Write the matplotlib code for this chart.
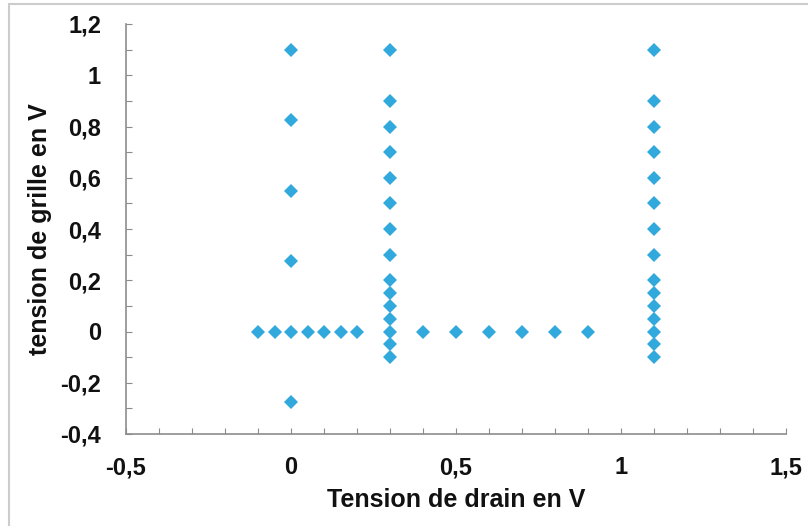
import numpy as np
import matplotlib.pyplot as plt
from matplotlib.patches import Rectangle
from matplotlib.ticker import MultipleLocator, FuncFormatter

plt.rcParams['font.family'] = ['Liberation Sans', 'DejaVu Sans']
plt.rcParams['font.weight'] = 'bold'

# drain voltage (V) and grid voltage (V) of each measured point
vd_col0 = [0, 0, 0, 0, 0, 0]
vg_col0 = [1.1, 0.825, 0.55, 0.275, 0, -0.275]

vd_row_left = [-0.1, -0.05, 0.05, 0.1, 0.15, 0.2]
vg_row_left = [0, 0, 0, 0, 0, 0]

vd_col1 = [0.3] * 15
vg_col1 = [1.1, 0.9, 0.8, 0.7, 0.6, 0.5, 0.4, 0.3, 0.2, 0.15, 0.1, 0.05, 0, -0.05, -0.1]

vd_row_mid = [0.4, 0.5, 0.6, 0.7, 0.8, 0.9]
vg_row_mid = [0, 0, 0, 0, 0, 0]

vd_col2 = [1.1] * 15
vg_col2 = [1.1, 0.9, 0.8, 0.7, 0.6, 0.5, 0.4, 0.3, 0.2, 0.15, 0.1, 0.05, 0, -0.05, -0.1]

vd = vd_col0 + vd_row_left + vd_col1 + vd_row_mid + vd_col2
vg = vg_col0 + vg_row_left + vg_col1 + vg_row_mid + vg_col2

fig = plt.figure(figsize=(8.08, 5.26), dpi=100)
ax = fig.add_axes([126 / 808, 1 - 434 / 526, (786 - 126) / 808, (434 - 24) / 526])

ax.plot(vd, vg, linestyle='none', marker='D', markersize=6.8, markeredgewidth=0,
        color='#31A9DD', clip_on=False)

ax.set_xlim(-0.5, 1.5)
ax.set_ylim(-0.4, 1.2)
ax.xaxis.set_major_locator(MultipleLocator(0.5))
ax.xaxis.set_minor_locator(MultipleLocator(0.1))
ax.yaxis.set_major_locator(MultipleLocator(0.2))
ax.yaxis.set_minor_locator(MultipleLocator(0.1))

fmt = FuncFormatter(lambda v, p: ('%g' % round(v, 2)).replace('.', ','))
ax.xaxis.set_major_formatter(fmt)
ax.yaxis.set_major_formatter(fmt)

for s in ['top', 'right']:
    ax.spines[s].set_visible(False)
for s in ['left', 'bottom']:
    ax.spines[s].set_color('#8c8c8c')
    ax.spines[s].set_linewidth(1.2)

ax.tick_params(which='both', direction='in', length=4.5, width=0.8, color='#8c8c8c')
ax.tick_params(axis='x', which='major', pad=16, labelsize=17, labelcolor='#111111')
ax.tick_params(axis='y', which='major', pad=18, labelsize=17, labelcolor='#111111')

ax.set_xlabel('Tension de drain en V', fontsize=18, fontweight='bold', color='#111111', labelpad=6)
ax.set_ylabel('tension de grille en V', fontsize=18, fontweight='bold', color='#111111', labelpad=6)

# light grey frame around the chart
fig.patches.append(Rectangle((9 / 808, -0.1), 2, 1 - 4 / 526 + 0.1, transform=fig.transFigure,
                             fill=False, edgecolor='#cccccc', linewidth=1.5))

fig.savefig('out.png', dpi=100)
